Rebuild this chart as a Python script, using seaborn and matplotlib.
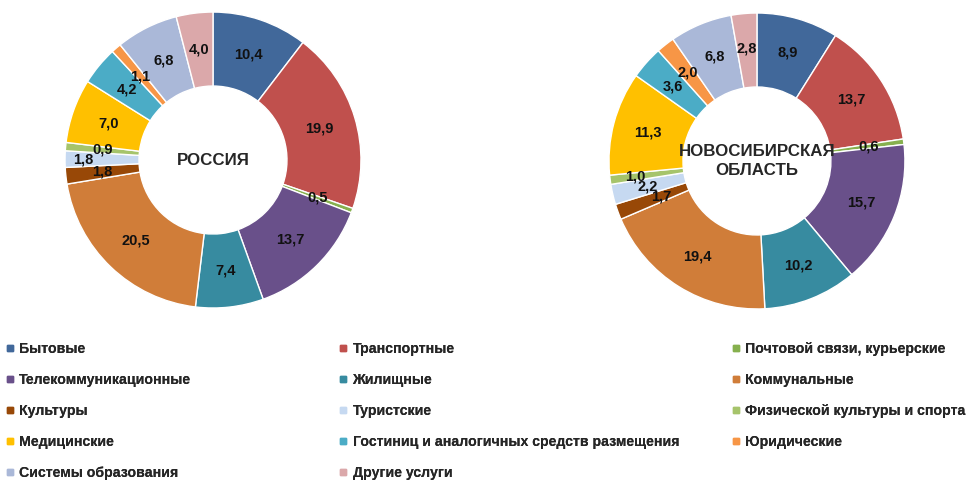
import matplotlib
matplotlib.use('Agg')
import matplotlib.pyplot as plt
import numpy as np
import seaborn as sns
from matplotlib.lines import Line2D

#%% data
categories = ['Бытовые', 'Транспортные', 'Почтовой связи, курьерские',
              'Телекоммуникационные', 'Жилищные', 'Коммунальные',
              'Культуры', 'Туристские', 'Физической культуры и спорта',
              'Медицинские', 'Гостиниц и аналогичных средств размещения', 'Юридические',
              'Системы образования', 'Другие услуги']
russia = [10.4, 19.9, 0.5, 13.7, 7.4, 20.5, 1.8, 1.8, 0.9, 7.0, 4.2, 1.1, 6.8, 4.0]
nso = [8.9, 13.7, 0.6, 15.7, 10.2, 19.4, 1.7, 2.2, 1.0, 11.3, 3.6, 2.0, 6.8, 2.8]
colors = ['#41689A', '#C0504D', '#86B04E', '#69508A', '#378BA0', '#D07D39',
          '#984807', '#C6D9F1', '#A6C46B', '#FFC000', '#4BACC6', '#F79646',
          '#AAB8D8', '#DBA8AA']
titles = ['РОССИЯ', 'НОВОСИБИРСКАЯ\nОБЛАСТЬ']

#%%
sns.set_style('white')
plt.rcParams['font.family'] = ['Liberation Sans', 'DejaVu Sans']

fig = plt.figure(figsize=(9.66, 4.82), dpi=100)
boxes = [[0.0673, 0.361, 0.3064, 0.614], [0.6304, 0.359, 0.3064, 0.614]]
# label radius: mid-ring, a few small slices nudged so they do not collide
lab_r = [np.full(14, 0.75), np.full(14, 0.76)]
lab_r[0][7] = 0.88
lab_r[1][6] = 0.69
lab_r[1][8] = 0.83

def donut(ax, vals, title, radii):
    wedges, _ = ax.pie(vals, colors=colors, startangle=90, counterclock=False,
                       radius=1, wedgeprops=dict(width=0.5, edgecolor='white', linewidth=1))
    for w, v, r in zip(wedges, vals, radii):
        ang = np.deg2rad((w.theta1 + w.theta2) / 2)
        ax.text(r * np.cos(ang), r * np.sin(ang), f'{v:.1f}'.replace('.', ','),
                ha='center', va='center', fontsize=10.5, fontweight='bold', color='#111111')
    ax.text(0, 0, title, ha='center', va='center', fontsize=12.2, fontweight='bold',
            linespacing=1.3)
    ax.set_xlim(-1, 1)
    ax.set_ylim(-1, 1)
    ax.set_aspect('equal')
    ax.axis('off')

for box, vals, title, radii in zip(boxes, [russia, nso], titles, lab_r):
    ax = fig.add_axes(box)
    donut(ax, vals, title, radii)

# legend: three columns filled row-wise
col_x = [0.006, 0.351, 0.757]
for c in range(3):
    idx = list(range(c, len(categories), 3))
    handles = [Line2D([], [], marker='s', linestyle='', markersize=4.5,
                      markerfacecolor=colors[i], markeredgecolor=colors[i]) for i in idx]
    leg = fig.legend(handles, [categories[i] for i in idx], loc='upper left',
                     bbox_to_anchor=(col_x[c], 0.291), frameon=False, handlelength=0.6,
                     handletextpad=0.35, labelspacing=1.2, borderpad=0, borderaxespad=0,
                     prop={'size': 10.2, 'weight': 'bold'})
    fig.add_artist(leg)

fig.savefig('out.png', dpi=100, facecolor='white')
